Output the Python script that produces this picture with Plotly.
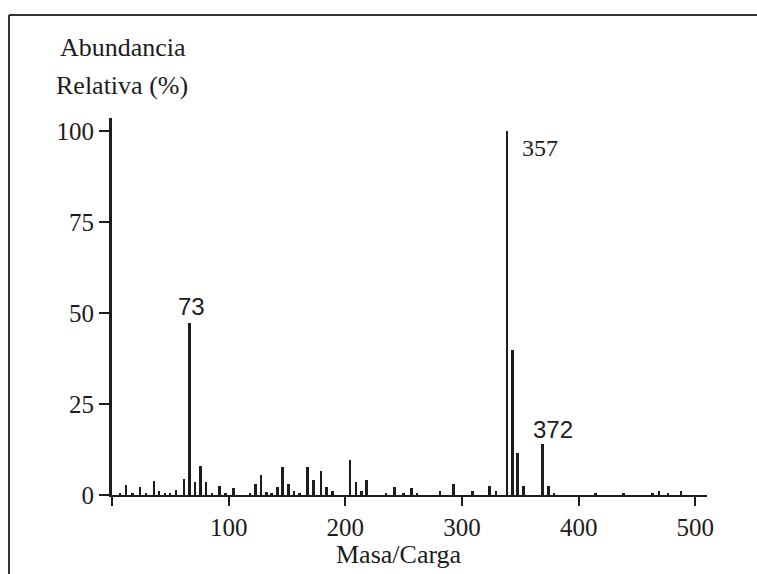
import plotly.graph_objects as go

# m/z positions (as drawn on the axis) and relative abundance (%)
mz = [6.9, 12.0, 17.4, 24.0, 29.1, 36.0, 40.3, 45.4, 49.7, 54.8, 61.7, 66.3, 71.1,
      75.7, 80.5, 85.7, 92.3, 97.4, 104.0, 118.3, 123.1, 127.7, 132.6, 136.8, 141.7,
      146.2, 151.1, 156.0, 160.5, 167.7, 172.8, 179.1, 184.0, 189.1, 204.0, 209.1,
      213.7, 218.2, 234.8, 242.2, 249.7, 256.8, 261.4, 281.1, 292.5, 309.0, 323.5,
      329.0, 338.5, 343.1, 347.5, 352.7, 369.1, 374.1, 378.8, 414.6, 438.2, 463.5,
      469.0, 476.7, 487.6]
abund = [0.6, 2.7, 0.6, 2.1, 0.6, 3.8, 1.2, 0.6, 0.6, 1.4, 4.3, 47.3, 3.7,
         8.0, 3.7, 0.5, 2.5, 0.6, 2.0, 0.5, 2.9, 5.4, 0.8, 0.5, 2.3,
         7.8, 2.9, 1.1, 0.5, 7.8, 4.1, 6.6, 2.3, 1.1, 9.6, 3.7,
         1.1, 4.1, 0.5, 2.3, 0.5, 1.9, 0.6, 1.0, 3.0, 1.0, 2.5,
         1.1, 100.0, 39.9, 11.6, 2.4, 13.9, 2.5, 0.6, 0.5, 0.5, 0.5,
         1.2, 0.3, 1.2]

# peak labels
peak_text = ["73", "357", "372"]
peak_x = [68.3, 366.6, 377.6]
peak_y = [51.8, 95.5, 18.1]

x_ticks = [0, 100, 200, 300, 400, 500]
x_ticktext = ["", "100", "200", "300", "400", "500"]
y_ticks = [0, 25, 50, 75, 100]

W, H = 757, 574
ML, MR, MT, MB = 112, 50, 118, 79
PW, PH = W - ML - MR, H - MT - MB


def px(xp):
    return (xp - ML) / PW


def py(yp):
    return (H - MB - yp) / PH


ink = "#1c1c1c"
serif = "Liberation Serif"

fig = go.Figure()
fig.add_trace(go.Bar(x=mz, y=abund, width=2.2, marker=dict(color=ink, line=dict(width=0)),
                     showlegend=False, hoverinfo="x+y"))

annotations = []
for t, xv, yv in zip(peak_text, peak_x, peak_y):
    annotations.append(dict(x=xv, y=yv, xref="x", yref="y", text=t, showarrow=False,
                            font=dict(family="Liberation Sans" if t != "357" else serif,
                                      size=24, color=ink)))
annotations += [
    dict(x=px(58), y=py(47), xref="paper", yref="paper", text="Abundancia", showarrow=False,
         xanchor="left", yanchor="middle", font=dict(family=serif, size=26, color=ink)),
    dict(x=px(54), y=py(85), xref="paper", yref="paper", text="Relativa (%)", showarrow=False,
         xanchor="left", yanchor="middle", font=dict(family=serif, size=26, color=ink)),
    dict(x=px(399), y=py(554), xref="paper", yref="paper", text="Masa/Carga", showarrow=False,
         xanchor="center", yanchor="middle", font=dict(family=serif, size=26, color=ink)),
]

frame = dict(color="#333333", width=2)
fig.update_layout(
    width=W, height=H, autosize=False,
    margin=dict(l=ML, r=MR, t=MT, b=MB, pad=0),
    paper_bgcolor="white", plot_bgcolor="white",
    bargap=0,
    annotations=annotations,
    shapes=[
        dict(type="line", xref="paper", yref="paper", x0=px(9), y0=py(15), x1=px(757), y1=py(15), line=frame),
        dict(type="line", xref="paper", yref="paper", x0=px(9), y0=py(15), x1=px(9), y1=py(574), line=frame),
    ],
    xaxis=dict(range=[0, 510], showgrid=False, zeroline=False, showline=True,
               linecolor=ink, linewidth=2, ticks="outside", ticklen=9, tickwidth=2,
               tickcolor=ink, tickmode="array", tickvals=x_ticks, ticktext=x_ticktext,
               tickfont=dict(family=serif, size=25, color=ink), fixedrange=True),
    yaxis=dict(range=[0, 103.7], showgrid=False, zeroline=False, showline=True,
               linecolor=ink, linewidth=3, ticks="outside", ticklen=10, tickwidth=2,
               tickcolor=ink, tickmode="array", tickvals=y_ticks,
               tickfont=dict(family=serif, size=25, color=ink), fixedrange=True),
)

fig.write_html("out.html", config={"displayModeBar": False},
               post_script="document.body.style.margin='0';document.body.style.overflow='hidden';")
